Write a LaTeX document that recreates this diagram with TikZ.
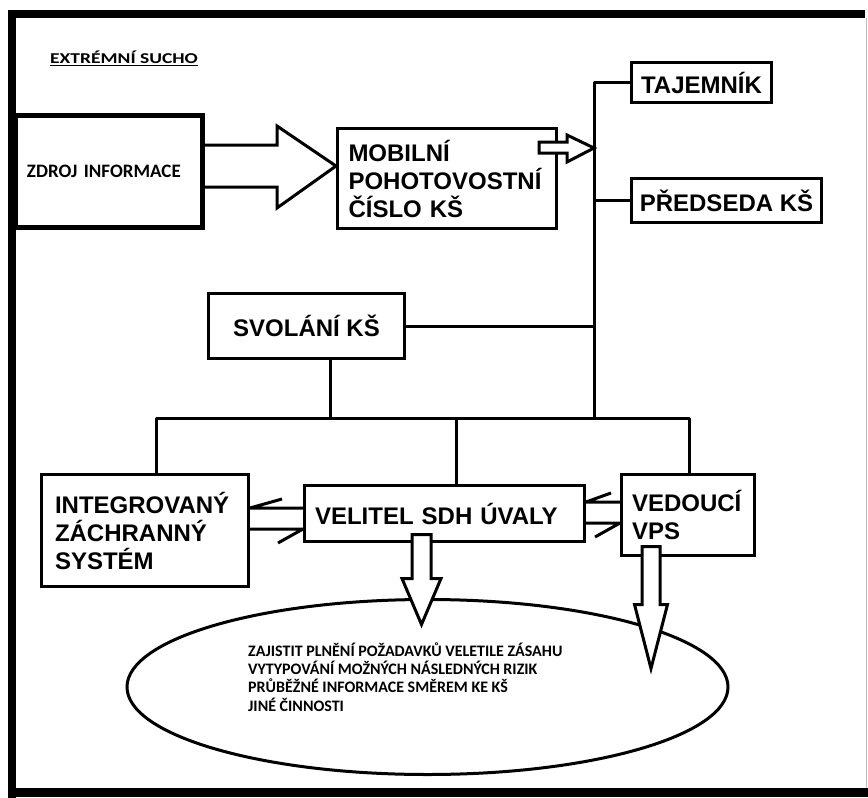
\documentclass[tikz,border=0pt]{standalone}
\usepackage{fontspec}
\setmainfont{Liberation Sans}
\newfontfamily\calibfont{Carlito}
\newfontfamily\widefont{Carlito}[FakeStretch=1.3]
\usetikzlibrary{positioning, calc, shapes.geometric}
\tikzset{
  box/.style={draw, line width=3pt, align=center, inner sep=0pt,
              font=\bfseries\fontsize{24}{28}\selectfont},
  srcbox/.style={box, line width=5pt, align=left,
              font=\calibfont\bfseries\fontsize{19}{22}\selectfont},
  oval/.style={draw, ellipse, line width=3pt, inner sep=0pt,
              minimum width=601pt, minimum height=175pt},
  ttl/.style={font=\widefont\bfseries\fontsize{15}{18}\selectfont, inner sep=0pt},
  tasktxt/.style={align=left, inner sep=0pt,
              font=\calibfont\bfseries\fontsize{16}{18.3}\selectfont},
  ln/.style={line width=3pt, line join=round},
  blk/.style={line width=3pt, fill=white, line join=miter},
}

\begin{document}
\begin{tikzpicture}[x=1pt, y=-1pt]
  \useasboundingbox (0,0) rectangle (868,798);
  % ---- frame ----
  \draw[line width=8pt] (11.5,798) -- (11.5,13.5) -- (865,13.5);
  \draw[line width=9pt] (8,792.5) -- (868,792.5);
  \draw[line width=1pt, black!25] (866,18) -- (866,788);

  % ---- boxes ----
  \node[ttl, anchor=west] (title) at (50,58) {\underline{EXTRÉMNÍ SUCHO}};
  \node[srcbox, text width=164pt, inner xsep=11.5pt, minimum height=112pt]
       (zdroj) at (109,171.5) {ZDROJ INFORMACE};
  \node[box, align=left, text width=197pt, inner xsep=11pt, minimum height=100pt]
       (mobil) at (447,178.5) {MOBILNÍ\\POHOTOVOSTNÍ\\ČÍSLO KŠ};
  \node[box, minimum width=140pt, minimum height=40pt] (tajem) at (701.5,82.5) {TAJEMNÍK};
  \node[box, minimum width=190pt, minimum height=44pt] (predseda) at (726.5,200.5) {PŘEDSEDA KŠ};
  \node[box, minimum width=196pt, minimum height=65pt] (svolani) at (306.5,326) {SVOLÁNÍ KŠ};
  \node[box, align=left, text width=180pt, inner xsep=13.5pt, minimum height=112pt]
       (izs) at (145,530.5) {INTEGROVANÝ\\ZÁCHRANNÝ\\SYSTÉM};
  \node[box, align=left, text width=259pt, inner xsep=10.5pt, minimum height=56pt]
       (velitel) at (444.5,513.5) {VELITEL SDH ÚVALY};
  \node[box, align=left, text width=112pt, inner xsep=10.5pt, minimum height=81pt]
       (vedouci) at (688,515) {VEDOUCÍ\\VPS};

  % ---- bus lines ----
  \coordinate (jn)   at (594,418);
  \coordinate (bizs) at (156,418);
  \coordinate (bsv)  at (330,418);
  \coordinate (bvel) at (456,418);
  \coordinate (bved) at (689,418);
  \draw[ln] (tajem.west) -| (jn);
  \draw[ln] (predseda.west) -- (predseda.west -| jn);
  \draw[ln] (svolani.east) -- (svolani.east -| jn);
  \draw[ln] (bsv |- svolani.south) -- (bsv);
  \draw[ln] (bizs |- izs.north) -- (bizs) -- (bved) -- (bved |- vedouci.north);
  \draw[ln] (bvel) -- (bvel |- velitel.north);

  % ---- half arrows between the units ----
  \draw[ln] (velitel.west |- 0,508) -- (izs.east |- 0,508) -- ++(32,-9);
  \draw[ln] (izs.east |- 0,529) -- (velitel.west |- 0,529) -- ++(-25,14);
  \draw[ln] (vedouci.west |- 0,502) -- (velitel.east |- 0,502) -- ++(25,-9);
  \draw[ln] (velitel.east |- 0,523) -- (vedouci.west |- 0,523) -- ++(-25,14);

  % ---- tasks ----
  \node[oval] (ovl) at (427.5,687) {};
  \node[tasktxt, anchor=west] (tasks) at (248,677)
       {ZAJISTIT PLNĚNÍ POŽADAVKŮ VELETILE ZÁSAHU\\
        VYTYPOVÁNÍ MOŽNÝCH NÁSLEDNÝCH RIZIK\\
        PRŮBĚŽNÉ INFORMACE SMĚREM KE KŠ\\
        JINÉ ČINNOSTI};

  % ---- block arrows ----
  \draw[blk] (zdroj.east |- 0,145) -- (277,145) -- (277,126)
       -- (mobil.west |- 0,166) -- (277,208) -- (277,187) -- (zdroj.east |- 0,187);
  \coordinate (m1) at ([xshift=-19pt]mobil.east);
  \draw[blk] (m1 |- 0,142) -- (567,142) -- (567,135) -- (jn |- 0,148)
       -- (567,162) -- (567,153) -- (m1 |- 0,153) -- cycle;
  \coordinate (vtop) at ([xshift=-23pt, yshift=8.5pt]velitel.south);
  \draw[blk] (vtop) ++(-9.5,0) -- ++(0,44) -- ++(-10,0) -- ++(19.5,46)
       -- ++(19.5,-46) -- ++(-10,0) -- ++(0,-44) -- cycle;
  \coordinate (dtop) at ([xshift=-37pt, yshift=10.5pt]vedouci.south);
  \draw[blk] (dtop) ++(-9,0) -- ++(0,58) -- ++(-7.5,0) -- ++(16.5,64)
       -- ++(16.5,-64) -- ++(-7.5,0) -- ++(0,-58) -- cycle;
\end{tikzpicture}
\end{document}
